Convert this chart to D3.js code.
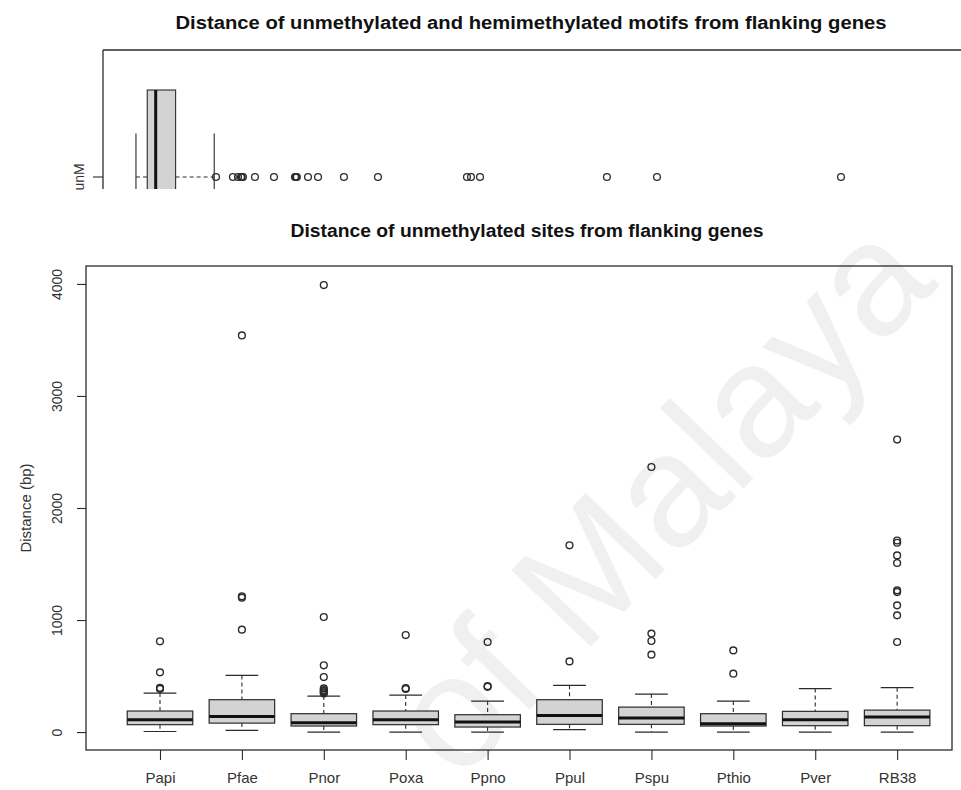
<!DOCTYPE html>
<html>
<head>
<meta charset="utf-8">
<script src="https://cdn.jsdelivr.net/npm/d3@7"></script>
<style>
  body { margin: 0; background: #fff; }
  text { font-family: "Liberation Sans", Arial, Helvetica, sans-serif; }
</style>
</head>
<body>
<svg id="chart" width="961" height="790"></svg>
<script>
// ---- Per-strain distances (bp) of unmethylated sites from flanking genes ----
const categories   = ["Papi", "Pfae", "Pnor", "Poxa", "Ppno", "Ppul", "Pspu", "Pthio", "Pver", "RB38"];
const whiskerLow   = [5, 15, 0, 0, 0, 21, 0, 0, 0, 0];
const quartile1    = [66, 80, 54, 66, 45, 69, 69, 54, 57, 57];
const medians      = [111, 140, 84, 111, 89, 149, 125, 75, 111, 134];
const quartile3    = [188, 289, 164, 188, 155, 289, 223, 164, 185, 196];
const whiskerHigh  = [348, 506, 321, 330, 277, 417, 339, 277, 388, 396];
const outliers = [
  [385, 395, 533, 810],
  [914, 1200, 1212, 3540],
  [345, 355, 365, 375, 390, 491, 596, 1027, 3990],
  [385, 392, 866],
  [404, 410, 804],
  [631, 1667],
  [691, 813, 879, 2366],
  [521, 729],
  [],
  [804, 1042, 1131, 1250, 1265, 1509, 1577, 1690, 1710, 2611]
];
const yTicks = [0, 1000, 2000, 3000, 4000];

// ---- Pooled motif distances (bp), horizontal box ----
const motifGroup    = "unM";
const motifBox      = [0, 64, 112, 225, 444];   // low whisker, Q1, median, Q3, high whisker
const motifOutliers = [454, 550, 579, 596, 600, 607, 675, 783, 902, 908, 913, 976, 1033,
                       1180, 1373, 1878, 1901, 1952, 2672, 2956, 4000];

const svg = d3.select("#chart");
const ink = "#2b2b2b";
const boxFill = "#d3d3d3";

// faint background watermark
svg.append("text")
  .attr("transform", "translate(458,784) rotate(-46)")
  .attr("font-size", 160)
  .attr("fill", "#f0f0f0")
  .text("of Malaya");

// ================= Top panel =================
const tpBox = { left: 103, right: 961, top: 50, bottom: 189 };
svg.append("text")
  .attr("x", 531).attr("y", 29)
  .attr("text-anchor", "middle")
  .attr("font-size", 18).attr("font-weight", "bold")
  .attr("fill", "#111")
  .attr("textLength", 711).attr("lengthAdjust", "spacingAndGlyphs")
  .text("Distance of unmethylated and hemimethylated motifs from flanking genes");

svg.append("defs").append("clipPath").attr("id", "topClip")
  .append("rect")
  .attr("x", tpBox.left - 20).attr("y", tpBox.top - 2)
  .attr("width", tpBox.right - tpBox.left + 20).attr("height", tpBox.bottom - tpBox.top + 2);

const tx = d3.scaleLinear().domain([-187, 4681]).range([tpBox.left, tpBox.right]);
const ty = d3.scaleLinear().domain([1.584, 0.416]).range([tpBox.top, tpBox.top + 254]);

const tp = svg.append("g").attr("clip-path", "url(#topClip)");
tp.append("line").attr("x1", tpBox.left).attr("x2", tpBox.right)
  .attr("y1", tpBox.top).attr("y2", tpBox.top).attr("stroke", ink).attr("stroke-width", 1.3);
tp.append("line").attr("x1", tpBox.left).attr("x2", tpBox.left)
  .attr("y1", tpBox.top).attr("y2", tpBox.bottom + 5).attr("stroke", ink).attr("stroke-width", 1.3);
tp.append("line").attr("x1", tpBox.left - 10).attr("x2", tpBox.left)
  .attr("y1", ty(1)).attr("y2", ty(1)).attr("stroke", ink).attr("stroke-width", 1.1);

const [mLow, mQ1, mMed, mQ3, mHigh] = motifBox;
tp.append("line").attr("x1", tx(mLow)).attr("x2", tx(mQ1)).attr("y1", ty(1)).attr("y2", ty(1))
  .attr("stroke", ink).attr("stroke-dasharray", "4,3");
tp.append("line").attr("x1", tx(mQ3)).attr("x2", tx(mHigh)).attr("y1", ty(1)).attr("y2", ty(1))
  .attr("stroke", ink).attr("stroke-dasharray", "4,3");
[mLow, mHigh].forEach(v => {
  tp.append("line").attr("x1", tx(v)).attr("x2", tx(v))
    .attr("y1", ty(1.2)).attr("y2", ty(0.8)).attr("stroke", ink).attr("stroke-width", 1.1);
});
tp.append("rect").attr("x", tx(mQ1)).attr("y", ty(1.4))
  .attr("width", tx(mQ3) - tx(mQ1)).attr("height", ty(0.6) - ty(1.4))
  .attr("fill", boxFill).attr("stroke", ink).attr("stroke-width", 1.1);
tp.append("line").attr("x1", tx(mMed)).attr("x2", tx(mMed))
  .attr("y1", ty(1.4)).attr("y2", ty(0.6)).attr("stroke", "#111").attr("stroke-width", 3);
tp.selectAll("circle.mo").data(motifOutliers).join("circle")
  .attr("class", "mo").attr("cx", d => tx(d)).attr("cy", ty(1)).attr("r", 3.4)
  .attr("fill", "none").attr("stroke", ink).attr("stroke-width", 1.3);

svg.append("text")
  .attr("transform", `translate(84,${ty(1)}) rotate(-90)`)
  .attr("text-anchor", "middle").attr("font-size", 14).attr("fill", "#333")
  .text(motifGroup);

// ================= Main panel =================
const m = { left: 86, right: 952, top: 266, bottom: 750 };
svg.append("text")
  .attr("x", 527).attr("y", 237)
  .attr("text-anchor", "middle")
  .attr("font-size", 18).attr("font-weight", "bold").attr("fill", "#111")
  .attr("textLength", 473).attr("lengthAdjust", "spacingAndGlyphs")
  .text("Distance of unmethylated sites from flanking genes");

const x = d3.scaleLinear().domain([0.0965, 10.67]).range([m.left, m.right]);
const y = d3.scaleLinear().domain([-160, 4160]).range([m.bottom, m.top]);
const unit = x(1) - x(0);
const halfBox = 0.4 * unit, halfStaple = 0.2 * unit;

// frame
svg.append("rect").attr("x", m.left).attr("y", m.top)
  .attr("width", m.right - m.left).attr("height", m.bottom - m.top)
  .attr("fill", "none").attr("stroke", ink).attr("stroke-width", 1.3);

// y axis
const yAxis = svg.append("g").attr("transform", `translate(${m.left},0)`)
  .call(d3.axisLeft(y).tickValues(yTicks).tickSize(9).tickFormat(d3.format("d")));
yAxis.select(".domain").remove();
yAxis.selectAll(".tick line").attr("stroke", ink).attr("stroke-width", 1.1);
yAxis.selectAll(".tick text")
  .attr("font-size", 14).attr("fill", "#333").attr("font-family", null)
  .attr("x", null).attr("dy", null)
  .attr("text-anchor", "middle")
  .attr("transform", "translate(-24,0) rotate(-90)")
  .attr("y", 0);

svg.append("text")
  .attr("transform", `translate(31,${(m.top + m.bottom) / 2}) rotate(-90)`)
  .attr("text-anchor", "middle").attr("font-size", 15).attr("fill", "#333")
  .text("Distance (bp)");

// x axis
const xAxis = svg.append("g").attr("transform", `translate(0,${m.bottom})`)
  .call(d3.axisBottom(x).tickValues(d3.range(1, categories.length + 1)).tickSize(10)
        .tickFormat(i => categories[i - 1]));
xAxis.select(".domain").remove();
xAxis.selectAll(".tick line").attr("stroke", ink).attr("stroke-width", 1.1);
xAxis.selectAll(".tick text").attr("font-size", 15).attr("fill", "#333")
  .attr("font-family", null).attr("y", 22).attr("dy", "0.71em");

// boxes
const groups = svg.append("g").selectAll("g.box")
  .data(categories.map((c, i) => ({
    i: i + 1, lo: whiskerLow[i], q1: quartile1[i], med: medians[i],
    q3: quartile3[i], hi: whiskerHigh[i], out: outliers[i]
  })))
  .join("g").attr("class", "box");

groups.append("line").attr("x1", d => x(d.i)).attr("x2", d => x(d.i))
  .attr("y1", d => y(d.hi)).attr("y2", d => y(d.q3))
  .attr("stroke", ink).attr("stroke-dasharray", "4,3").attr("stroke-width", 1.1);
groups.append("line").attr("x1", d => x(d.i)).attr("x2", d => x(d.i))
  .attr("y1", d => y(d.q1)).attr("y2", d => y(d.lo))
  .attr("stroke", ink).attr("stroke-dasharray", "4,3").attr("stroke-width", 1.1);
groups.append("line").attr("x1", d => x(d.i) - halfStaple).attr("x2", d => x(d.i) + halfStaple)
  .attr("y1", d => y(d.hi)).attr("y2", d => y(d.hi)).attr("stroke", ink).attr("stroke-width", 1.2);
groups.append("line").attr("x1", d => x(d.i) - halfStaple).attr("x2", d => x(d.i) + halfStaple)
  .attr("y1", d => y(d.lo)).attr("y2", d => y(d.lo)).attr("stroke", ink).attr("stroke-width", 1.2);
groups.append("rect")
  .attr("x", d => x(d.i) - halfBox).attr("width", 2 * halfBox)
  .attr("y", d => y(d.q3)).attr("height", d => y(d.q1) - y(d.q3))
  .attr("fill", boxFill).attr("stroke", ink).attr("stroke-width", 1.2);
groups.append("line").attr("x1", d => x(d.i) - halfBox).attr("x2", d => x(d.i) + halfBox)
  .attr("y1", d => y(d.med)).attr("y2", d => y(d.med)).attr("stroke", "#111").attr("stroke-width", 3);
groups.selectAll("circle").data(d => d.out.map(v => ({ i: d.i, v })))
  .join("circle")
  .attr("cx", d => x(d.i)).attr("cy", d => y(d.v)).attr("r", 3.4)
  .attr("fill", "none").attr("stroke", ink).attr("stroke-width", 1.4);
</script>
</body>
</html>
